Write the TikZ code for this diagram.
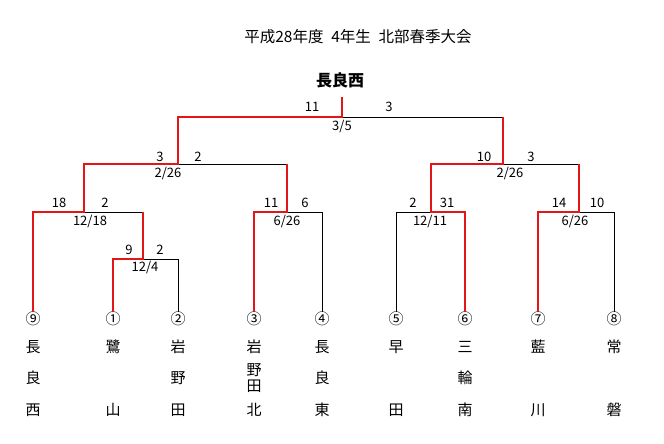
\documentclass[tikz,border=0pt]{standalone}
\usepackage{fontspec}
\setmainfont{Noto Sans CJK JP}
\usepackage{tikz}
\usetikzlibrary{positioning}
\definecolor{winred}{RGB}{226,22,22}

\begin{document}
\begin{tikzpicture}[x=1pt,y=-1pt,
    win/.style={draw=winred,line width=2.6pt},
    lose/.style={draw=black,line width=0.8pt},
    score/.style={font=\fontsize{13}{15}\selectfont,inner sep=0pt},
    seed/.style={font=\fontsize{15}{17}\selectfont,inner sep=0pt},
    kanji/.style={font=\fontsize{15}{19}\selectfont,inner sep=0pt,align=center}]
    \useasboundingbox (0,0) rectangle (664,444);
    \node (title) at (358,37) {\fontsize{15.5}{17}\selectfont 平成28年度\hspace{0.5em}4年生\hspace{0.5em}北部春季大会};
    \node[font=\fontsize{16}{18}\selectfont\bfseries] (champ) at (340,80) {長良西};
    % bracket points
    \coordinate (w)   at (342,97);
    \coordinate (f)   at (342,117);
    \coordinate (fl)  at (178,117);
    \coordinate (fr)  at (503,117);
    \coordinate (sl)  at (178,164);
    \coordinate (sll) at (84,164);
    \coordinate (slr) at (287,164);
    \coordinate (sr)  at (503,164);
    \coordinate (srl) at (431,164);
    \coordinate (srr) at (579,164);
    \coordinate (q1)  at (84,212);
    \coordinate (q1l) at (33,212);
    \coordinate (q1r) at (143,212);
    \coordinate (q2)  at (287,212);
    \coordinate (q2l) at (254,212);
    \coordinate (q2r) at (322,212);
    \coordinate (q3)  at (431,212);
    \coordinate (q3l) at (396,212);
    \coordinate (q3r) at (465,212);
    \coordinate (q4)  at (579,212);
    \coordinate (q4l) at (538,212);
    \coordinate (q4r) at (614,212);
    \coordinate (r1)  at (143,259);
    \coordinate (r1l) at (113,259);
    \coordinate (r1r) at (178,259);
    % teams
    \foreach \x/\i/\c/\a/\b/\d in {33/9/⑨/長/良/西, 113/1/①/鷺//山, 178/2/②/岩/野/田,
        254/3/③/岩/{野\\[-3pt]田}/北, 322/4/④/長/良/東, 396/5/⑤/早//田,
        465/6/⑥/三/輪/南, 538/7/⑦/藍//川, 614/8/⑧/常//磐} {
        \node[seed] (c\i) at (\x,319) {\c};
        \node[kanji] (a\i) at (\x,347) {\a};
        \node[kanji] (b\i) at (\x,378) {\b};
        \node[kanji] (d\i) at (\x,410) {\d};
    }
    % losers
    \draw[lose] (f) -- (fr);
    \draw[lose] (sl) -- (slr);
    \draw[lose] (sr) -- (srr);
    \draw[lose] (q1) -- (q1r);
    \draw[lose] (r1) -- (r1r) -- (c2.north);
    \draw[lose] (q2) -- (q2r) -- (c4.north);
    \draw[lose] (q3) -- (q3l) -- (c5.north);
    \draw[lose] (q4) -- (q4r) -- (c8.north);
    % winners
    \draw[win] (w) -- (f) -- (fl) -- (sl) -- (sll) -- (q1) -- (q1l) -- (c9.north);
    \draw[win] (q1r) -- (r1) -- (r1l) -- (c1.north);
    \draw[win] (slr) -- (q2) -- (q2l) -- (c3.north);
    \draw[win] (fr) -- (sr) -- (srl) -- (q3) -- (q3r) -- (c6.north);
    \draw[win] (srr) -- (q4) -- (q4l) -- (c7.north);
    % scores
    \foreach \x/\y/\s [count=\k] in {312/107/11, 389/107/3, 160/157/3, 198/157/2,
        59/203/18, 105/203/2, 129/250/9, 160/250/2, 271/203/11, 305/203/6,
        484/157/10, 531/157/3, 413/203/2, 447/203/31, 559/203/14, 597/203/10}
        \node[score] (s\k) at (\x,\y) {\s};
    % dates
    \foreach \x/\y/\s [count=\k] in {342/127/{3/5}, 168/174/{2/26}, 90/222/{12/18},
        145/268/{12/4}, 287/222/{6/26}, 510/174/{2/26}, 430/222/{12/11}, 575/222/{6/26}}
        \node[score] (dt\k) at (\x,\y) {\s};
\end{tikzpicture}
\end{document}
